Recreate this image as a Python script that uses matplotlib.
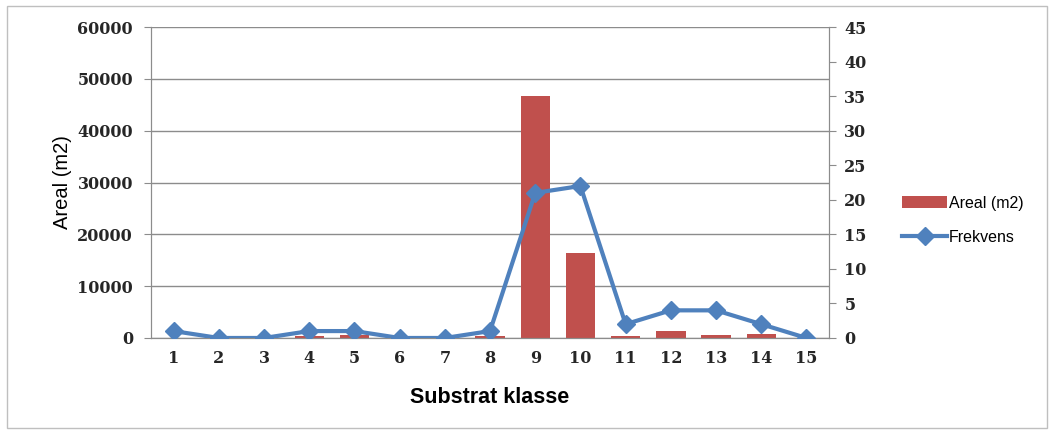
import numpy as np
import matplotlib
matplotlib.use('Agg')
import matplotlib.pyplot as plt
from matplotlib.patches import Rectangle

# data
klasse = list(range(1, 16))
areal = [0, 0, 0, 350, 550, 0, 0, 350, 46700, 16400, 350, 1400, 550, 750, 0]
frekvens = [1, 0, 0, 1, 1, 0, 0, 1, 21, 22, 2, 4, 4, 2, 0]

bar_col = '#C0504D'
line_col = '#4F81BD'
grid_col = '#8C8C8C'
tick_font = ['DejaVu Serif']
lab_font = ['Liberation Sans', 'DejaVu Sans']

fig = plt.figure(figsize=(10.51, 4.30), dpi=100)
fig.patches.append(Rectangle((0.007, 0.005), 0.989, 0.98, transform=fig.transFigure,
                             fill=False, edgecolor='#BFBFBF', lw=1))

ax = fig.add_axes([0.1437, 0.214, 0.6451, 0.723])
ax.bar(klasse, areal, width=0.65, color=bar_col, zorder=2, label='Areal (m2)')
ax.set_ylim(0, 60000)
ax.set_yticks(np.arange(0, 60001, 10000))
ax.set_xlim(0.5, 15.5)
ax.set_xticks(klasse)
ax.yaxis.grid(True, color=grid_col, lw=1)
ax.set_axisbelow(True)
ax.spines['top'].set_visible(False)
for s in ['left', 'bottom', 'right']:
    ax.spines[s].set_color(grid_col)
ax.tick_params(axis='y', length=5, color=grid_col, pad=8)
ax.tick_params(axis='x', length=0, pad=9)
for lab in ax.get_yticklabels() + ax.get_xticklabels():
    lab.set_family(tick_font)
    lab.set_fontsize(11.5)
    lab.set_fontweight('bold')
    lab.set_color('#262626')
ax.set_ylabel('Areal (m2)', fontsize=14.5, family=lab_font, labelpad=4)
ax.set_xlabel('Substrat klasse', fontsize=15.5, fontweight='bold', family=lab_font, labelpad=14)

ax2 = ax.twinx()
ax2.plot(klasse, frekvens, color=line_col, lw=3, marker='D', markersize=9,
         zorder=3, label='Frekvens')
ax2.set_ylim(0, 45)
ax2.set_yticks(np.arange(0, 46, 5))
ax2.spines['top'].set_visible(False)
for s in ['left', 'bottom', 'right']:
    ax2.spines[s].set_color(grid_col)
ax2.tick_params(axis='y', length=5, color=grid_col, pad=6)
for lab in ax2.get_yticklabels():
    lab.set_family(tick_font)
    lab.set_fontsize(11.5)
    lab.set_fontweight('bold')
    lab.set_color('#262626')

h1, l1 = ax.get_legend_handles_labels()
h2, l2 = ax2.get_legend_handles_labels()
fig.legend(h1 + h2, l1 + l2, loc='center left', bbox_to_anchor=(0.845, 0.488),
           frameon=False, prop={'family': lab_font, 'size': 11.5},
           handlelength=2.8, handletextpad=0.1, labelspacing=1.2)

fig.savefig('out.png', dpi=100)
